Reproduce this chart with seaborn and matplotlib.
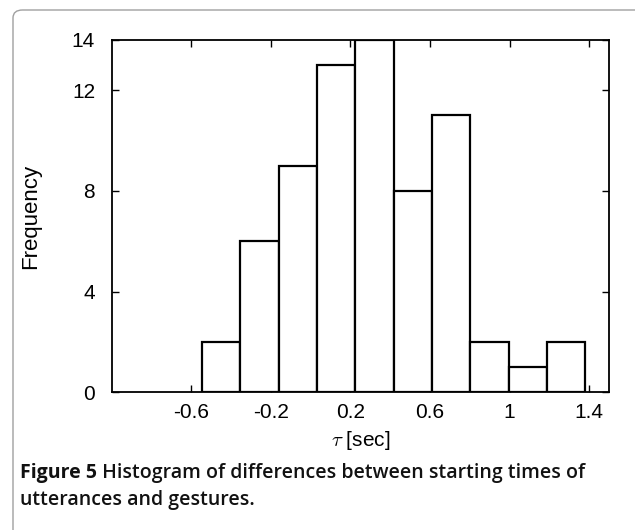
import numpy as np
import matplotlib
matplotlib.use("Agg")
import matplotlib.pyplot as plt
from matplotlib.patches import FancyBboxPatch
import seaborn as sns

# histogram bins (MATLAB style hist, 10 bins) and counts
bin_edges = [-0.547, -0.354, -0.161, 0.032, 0.225, 0.417, 0.610, 0.803, 0.996, 1.189, 1.381]
counts = [2, 6, 9, 13, 14, 8, 11, 2, 1, 2]
x_ticks = [-0.6, -0.2, 0.2, 0.6, 1.0, 1.4]
x_tick_labels = ["-0.6", "-0.2", "0.2", "0.6", "1", "1.4"]
y_ticks = [0, 4, 8, 12, 14]

caption_title = "Figure 5"
caption_lines = [" Histogram of differences between starting times of",
                 "utterances and gestures."]

bin_centers = [(a + b) / 2 for a, b in zip(bin_edges[:-1], bin_edges[1:])]

sns.set_style("white")
plt.rcParams['font.family'] = ['Liberation Sans', 'DejaVu Sans']
plt.rcParams['text.color'] = 'black'
plt.rcParams['axes.labelcolor'] = 'black'
plt.rcParams['xtick.color'] = 'black'
plt.rcParams['ytick.color'] = 'black'
plt.rcParams['mathtext.fontset'] = 'cm'

fig = plt.figure(figsize=(6.35, 5.30), dpi=100)

# rounded frame around the figure panel
frame = FancyBboxPatch((13 / 635, -0.05), 1.0, 1 - 10 / 530 + 0.05,
                       boxstyle="round,pad=0,rounding_size=0.015",
                       transform=fig.transFigure, facecolor='none',
                       edgecolor='#a0a0a0', linewidth=1.0, clip_on=False)
fig.patches.append(frame)

ax = fig.add_axes([0.176, 0.26, 0.783, 0.665])
sns.histplot(x=bin_centers, weights=counts, bins=bin_edges, ax=ax,
             color='white', edgecolor='black', linewidth=1.6, alpha=1.0)

ax.set_xlim(-1.0, 1.5)
ax.set_ylim(0, 14)
ax.set_xticks(x_ticks)
ax.set_xticklabels(x_tick_labels)
ax.set_yticks(y_ticks)
ax.tick_params(direction='in', length=5, width=1, labelsize=15,
               colors='black', top=True, right=True, bottom=True, left=True)
ax.tick_params(axis='y', pad=12)
ax.tick_params(axis='x', pad=8)
for s in ax.spines.values():
    s.set_visible(True)
    s.set_linewidth(1.3)
    s.set_color('black')

ax.set_xlabel(r"$\mathrm{\tau}$ [sec]", fontsize=15, labelpad=5, color='black')
ax.set_ylabel("Frequency", fontsize=16, labelpad=22, color='black')

# caption: bold title followed by semibold text
cap_font = ['Open Sans', 'DejaVu Sans']
cap_size = 14
x0, y1, y2 = 20 / 635, 1 - 473 / 530, 1 - 500 / 530
t = fig.text(x0, y1, caption_title, fontsize=cap_size, weight='bold',
             va='center', ha='left', family=cap_font, color='#111111')
fig.canvas.draw()
bb = t.get_window_extent().transformed(fig.transFigure.inverted())
fig.text(bb.x1, y1, caption_lines[0], fontsize=cap_size, weight='semibold',
         va='center', ha='left', family=cap_font, color='#111111')
fig.text(x0, y2, caption_lines[1], fontsize=cap_size, weight='semibold',
         va='center', ha='left', family=cap_font, color='#111111')

plt.savefig("out.png", dpi=100)
